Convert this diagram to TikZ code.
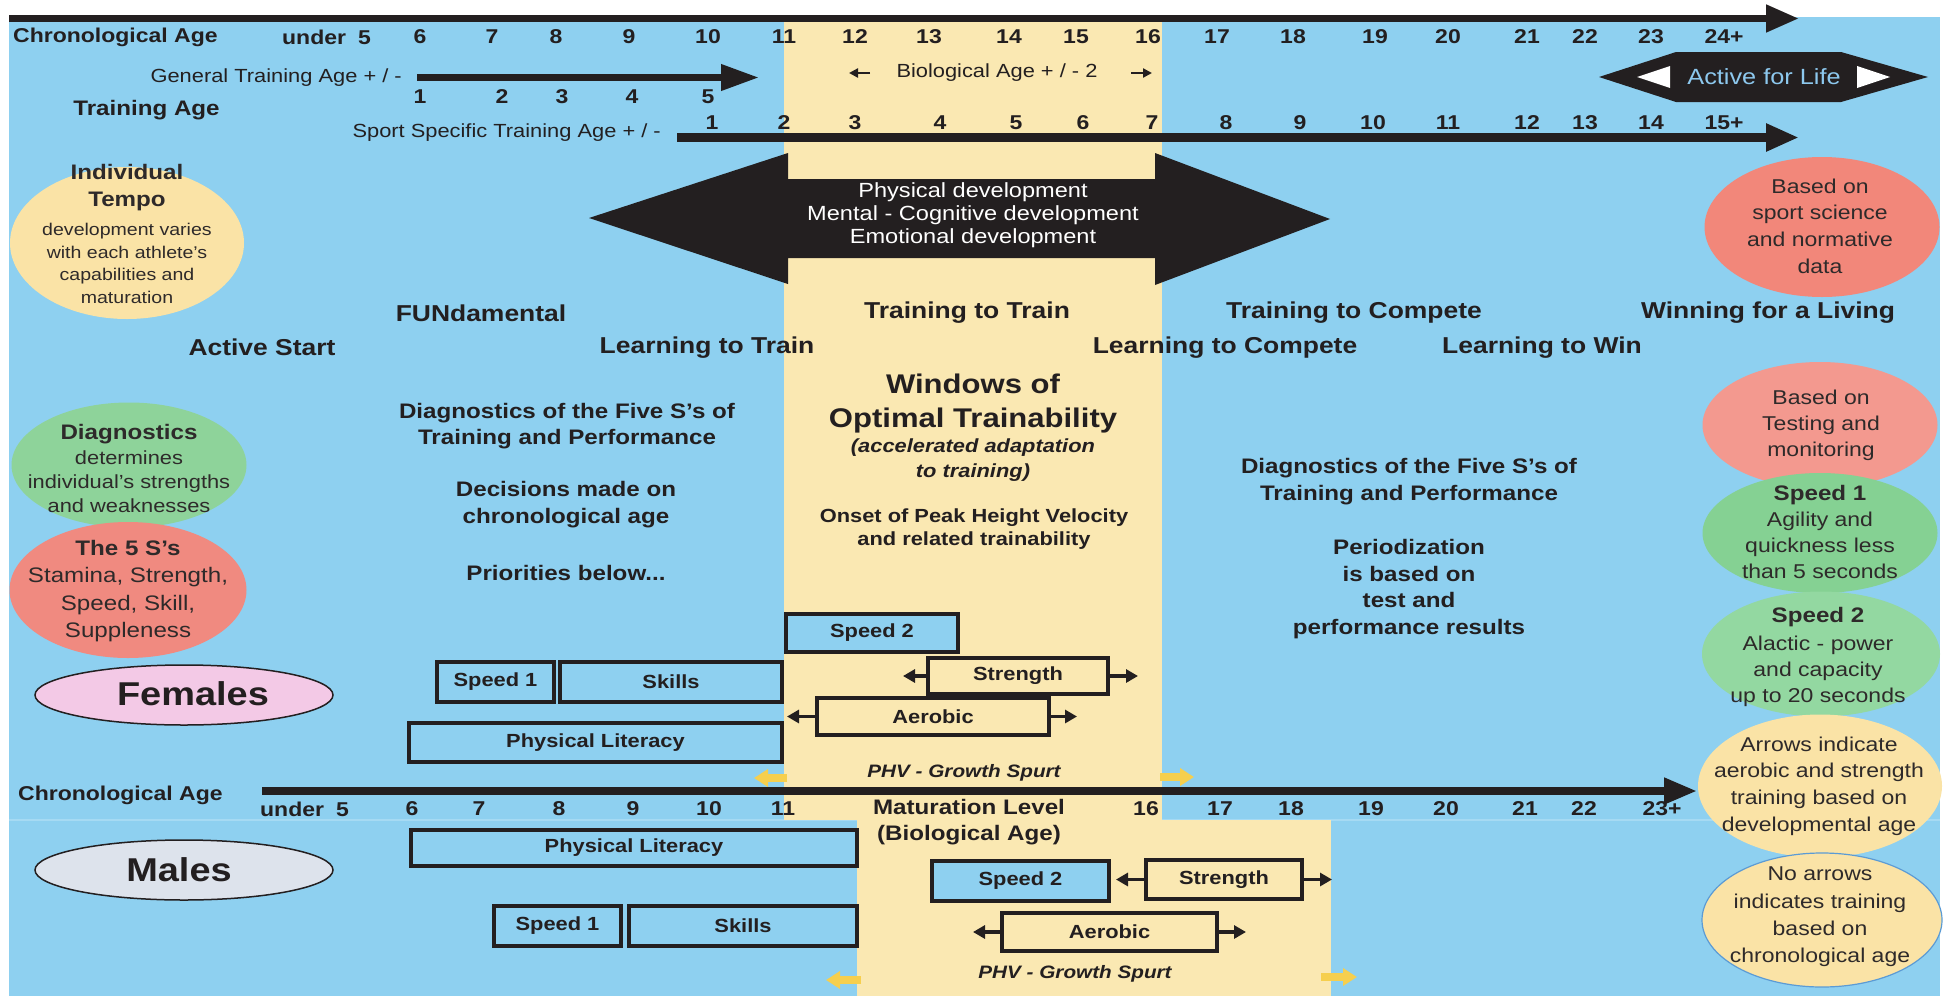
\documentclass[tikz,border=0pt]{standalone}
\usepackage{fontspec}
\setmainfont{Liberation Sans}[FakeStretch=1.15]
\usetikzlibrary{arrows.meta,shapes.geometric}
\definecolor{bg}{HTML}{8ED0F0}
\definecolor{band}{HTML}{FAE8B2}
\definecolor{ink}{HTML}{231F20}
\definecolor{ink2}{HTML}{2E2A2A}
\definecolor{sepc}{HTML}{A6DAF3}
\definecolor{aflc}{HTML}{8DC8EE}
\definecolor{goldc}{HTML}{F6CF4E}
\definecolor{ellyel}{HTML}{FAE3A6}
\definecolor{greenA}{HTML}{85D193}
\definecolor{greenB}{HTML}{93D8A1}
\definecolor{greenC}{HTML}{8ED39A}
\definecolor{salA}{HTML}{F2877A}
\definecolor{salB}{HTML}{F3998F}
\definecolor{salC}{HTML}{F08A80}
\definecolor{femc}{HTML}{F3C9E6}
\definecolor{malc}{HTML}{DDE3EC}
\definecolor{noarr}{HTML}{5B9BD5}
\newcommand\myfs[2]{\fontsize{#1}{#2}\selectfont}
\tikzset{
  xlab/.style={inner sep=0pt, text=ink, font=\bfseries\myfs{20}{24}},
  xreg/.style={inner sep=0pt, text=ink, font=\myfs{19}{23}},
  xstage/.style={inner sep=0pt, text=ink, font=\bfseries\myfs{23}{27}},
  xmidt/.style={inner sep=0pt, text=ink, align=center, font=\bfseries\myfs{21}{26.5}},
  xbar/.style={draw=ink, line width=4pt, inner sep=0pt, text=ink, font=\bfseries\myfs{19}{23}},
  xblue/.style={xbar, fill=bg},
  xyel/.style={xbar, fill=band},
  xell/.style={ellipse, inner sep=0pt, draw=none},
  xetxt/.style={inner sep=0pt, align=center, text=ink2},
  xside/.style={draw=ink, line width=3.5pt, -{Triangle[width=13pt,length=12pt]}},
  xsmall/.style={draw=ink, line width=2.5pt, -{Triangle[width=9pt,length=9pt]}},
  xgold/.style={draw=goldc, line width=8pt, -{Triangle[width=17pt,length=14pt]}},
  xmain/.style={draw=ink, line width=8pt, -{Triangle[width=26pt,length=33pt]}},
  xphv/.style={inner sep=0pt, text=ink, font=\bfseries\itshape\myfs{18}{22}},
}
\begin{document}
\begin{tikzpicture}[x=1pt,y=-1pt]
\useasboundingbox (0,0) rectangle (1952,996);
\fill[white] (0,0) rectangle (1952,996);
% panels
\fill[bg] (9,17) rectangle (1940,996);
\draw[sepc, line width=1.5pt] (9,820) -- (1940,820);
\fill[band] (784,22) rectangle (1162,820);
\fill[band] (857,820) rectangle (1331,996);

% ---------- top axis ----------
\coordinate (topS) at (9,18.5);
\coordinate (topE) at (1799,18.5);
\draw[xmain, line width=7.5pt] (topS) -- (topE);
\node[xlab, anchor=west] (chrT) at (13,37) {Chronological Age};
\node[xlab] (u5T) at (326.5,37) {under\hspace{12pt}5};
\foreach \n/\x [count=\i] in {6/420,7/492,8/556,9/629,10/708,11/784,12/855,13/929,14/1009,15/1076,16/1148,17/1217,18/1293,19/1375,20/1448,21/1527,22/1585,23/1651,24+/1724}
  \node[xlab] (ta\i) at (\x,37) {\n};

% general training age
\node[xreg, anchor=east] (genL) at (402,78) {General Training Age + / -};
\coordinate (genS) at (417,77.5);
\coordinate (genE) at (759,77.5);
\draw[xmain, line width=7pt, -{Triangle[width=25pt,length=38pt]}] (genS) -- (genE);
\foreach \n/\x [count=\i] in {1/420,2/502,3/562,4/632,5/708}
  \node[xlab] (gn\i) at (\x,97) {\n};
\node[xlab, font=\bfseries\myfs{21}{25}] (trA) at (146.5,110) {Training Age};

% biological age
\node[xreg] (bio) at (997,73) {Biological Age + / - 2};
\coordinate (bioL1) at (870,73);
\coordinate (bioL2) at (849,73);
\coordinate (bioR1) at (1131,73);
\coordinate (bioR2) at (1152,73);
\draw[xsmall] (bioL1) -- (bioL2);
\draw[xsmall] (bioR1) -- (bioR2);

% sport specific
\node[xreg, anchor=east] (spL) at (661,133) {Sport Specific Training Age + / -};
\coordinate (spS) at (677,137.5);
\coordinate (spE) at (1799,137.5);
\draw[xmain, line width=9pt] (spS) -- (spE);
\foreach \n/\x [count=\i] in {1/712,2/784,3/855,4/940,5/1016,6/1083,7/1152,8/1226,9/1300,10/1373,11/1448,12/1527,13/1585,14/1651,15+/1724}
  \node[xlab] (sn\i) at (\x,123) {\n};

% active for life
\fill[ink] (1599,77) -- (1676,52) -- (1841,52) -- (1928,77) -- (1841,102) -- (1676,102) -- cycle;
\fill[white] (1637,77) -- (1670,66) -- (1670,88) -- cycle;
\fill[white] (1890,77) -- (1857,66) -- (1857,88) -- cycle;
\node[inner sep=0pt, text=aflc, font=\myfs{22}{26}] (afl) at (1764,77) {Active for Life};

% big double arrow
\fill[ink] (589,218) -- (788,153) -- (788,179) -- (1155,179) -- (1155,153) -- (1330,219) -- (1155,285) -- (1155,258) -- (788,258) -- (788,284) -- cycle;
\node[inner sep=0pt, text=white, align=center, font=\myfs{20.5}{23}] (dev) at (973,215) {Physical development\\Mental - Cognitive development\\Emotional development};

% ---------- left ellipses ----------
\node[xell, fill=ellyel, minimum width=234pt, minimum height=152pt] (etempo) at (127,243) {};
\node[xetxt, font=\myfs{17}{22.7}] (ttempo) at (127,234) {{\bfseries\myfs{21}{22}Individual}\\[4.3pt]{\bfseries\myfs{21}{22}Tempo}\\[6pt]development varies\\with each athlete’s\\capabilities and\\maturation};
\node[xell, fill=greenC, minimum width=235pt, minimum height=125pt] (ediag) at (129,465) {};
\node[xell, fill=salC, minimum width=237pt, minimum height=136pt] (efive) at (128,590) {};
\node[xetxt, font=\myfs{19}{24}] (tdiag) at (129,468) {{\bfseries\myfs{21}{24}Diagnostics}\\[1pt]determines\\individual’s strengths\\and weaknesses};
\node[xetxt, font=\myfs{21}{27.5}] (tfive) at (128,591) {{\bfseries The 5 S’s}\\Stamina, Strength,\\Speed, Skill,\\Suppleness};

\node[xell, draw=ink, line width=1.5pt, fill=femc, minimum width=298pt, minimum height=60pt] (efem) at (184,695) {};
\node[inner sep=0pt, text=ink, font=\bfseries\myfs{33}{36}] (tfem) at (193,694) {Females};
\node[xell, draw=ink, line width=1.5pt, fill=malc, minimum width=298pt, minimum height=60pt] (emal) at (184,870) {};
\node[inner sep=0pt, text=ink, font=\bfseries\myfs{33}{36}] (tmal) at (179,870) {Males};

% ---------- stages ----------
\node[xstage] (sAS) at (262,347) {Active Start};
\node[xstage] (sFU) at (481,313) {FUNdamental};
\node[xstage] (sLT) at (707,348) {Learning to Train};
\node[xstage] (sTT) at (967,313) {Training to Train};
\node[xstage] (sLC) at (1225,348) {Learning to Compete};
\node[xstage] (sTC) at (1354,313) {Training to Compete};
\node[xstage] (sLW) at (1542,348) {Learning to Win};
\node[xstage] (sWL) at (1768,313) {Winning for a Living};

% ---------- middle texts ----------
\node[xmidt] (mL1) at (567,426) {Diagnostics of the Five S’s of\\Training and Performance};
\node[xmidt, font=\bfseries\myfs{21}{27}] (mL2) at (566,505) {Decisions made on\\chronological age};
\node[xmidt] (mL3) at (566,573) {Priorities below...};
\node[xmidt, font=\bfseries\myfs{27}{34}] (mW1) at (973,404) {Windows of\\Optimal Trainability};
\node[xmidt, font=\bfseries\itshape\myfs{19}{25}] (mW2) at (973,460) {(accelerated adaptation\\to training)};
\node[xmidt, font=\bfseries\myfs{19}{23}] (mW3) at (974,529) {Onset of Peak Height Velocity\\and related trainability};
\node[xmidt, font=\bfseries\myfs{21}{27}] (mR1) at (1409,482) {Diagnostics of the Five S’s of\\Training and Performance};
\node[xmidt, font=\bfseries\myfs{21}{26.7}] (mR2) at (1409,589) {Periodization\\is based on\\test and\\performance results};

% ---------- right ellipses ----------
\node[xell, fill=salA, minimum width=235pt, minimum height=140pt] (eR1) at (1822,227) {};
\node[xetxt, font=\myfs{20}{26.7}] (tR1) at (1820,226) {Based on\\sport science\\and normative\\data};
\node[xell, fill=salB, minimum width=235pt, minimum height=126pt] (eR2) at (1820,425) {};
\node[xetxt, font=\myfs{20}{26}] (tR2) at (1821,425) {Based on\\Testing and\\monitoring};
\node[xell, fill=greenA, minimum width=235pt, minimum height=120pt] (eR3) at (1820,533) {};
\node[xetxt, font=\myfs{20}{26}] (tR3) at (1820,532) {{\bfseries\myfs{21}{26}Speed 1}\\Agility and\\quickness less\\than 5 seconds};
\node[xell, fill=greenB, minimum width=238pt, minimum height=125pt] (eR4) at (1821,654) {};
\node[xetxt, font=\myfs{20}{26}] (tR4) at (1818,657) {{\bfseries\myfs{21}{26}Speed 2}\\[2pt]Alactic - power\\and capacity\\up to 20 seconds};
\node[xell, fill=ellyel, minimum width=244pt, minimum height=143pt] (eR5) at (1820,786) {};
\node[xetxt, font=\myfs{20}{26.7}] (tR5) at (1819,786) {Arrows indicate\\aerobic and strength\\training based on\\developmental age};
\node[xell, fill=ellyel, draw=noarr, line width=1.2pt, minimum width=240pt, minimum height=134pt] (eR6) at (1822,920) {};
\node[xetxt, font=\myfs{20}{27.3}] (tR6) at (1820,917) {No arrows\\indicates training\\based on\\chronological age};

% ---------- female bars ----------
\node[xblue, minimum width=172pt, minimum height=38pt] (fsp2) at (872,633) {Speed 2};
\node[xblue, minimum width=117pt, minimum height=40pt] (fsp1) at (495.5,682) {Speed 1};
\node[xblue, minimum width=222pt, minimum height=40pt] (fski) at (671,682) {Skills};
\node[xyel, minimum width=180pt, minimum height=36pt] (fstr) at (1018,676) {Strength};
\node[xyel, minimum width=232pt, minimum height=37pt] (faer) at (933,716.5) {Aerobic};
\node[xblue, minimum width=373pt, minimum height=39pt] (fphy) at (595.5,742.5) {Physical Literacy};
\coordinate (fstrL) at (903,676);
\coordinate (fstrR) at (1138,676);
\coordinate (faerL) at (787,716.5);
\coordinate (faerR) at (1077,716.5);
\draw[xside] (fstr.west) -- (fstrL);
\draw[xside] (fstr.east) -- (fstrR);
\draw[xside] (faer.west) -- (faerL);
\draw[xside] (faer.east) -- (faerR);
\node[xphv] (fphv) at (964,773) {PHV - Growth Spurt};
\coordinate (g1s) at (787,778);
\coordinate (g1e) at (754,778);
\coordinate (g2s) at (1160,777);
\coordinate (g2e) at (1194,777);
\draw[xgold] (g1s) -- (g1e);
\draw[xgold] (g2s) -- (g2e);

% ---------- bottom axis ----------
\coordinate (botS) at (262,791);
\coordinate (botE) at (1697,791);
\draw[xmain, line width=7.5pt, -{Triangle[width=25pt,length=33pt]}] (botS) -- (botE);
\node[xlab, anchor=west] (chrB) at (18,795) {Chronological Age};
\node[xlab] (u5B) at (304.5,809) {under\hspace{12pt}5};
\foreach \n/\x [count=\i] in {6/412,7/479,8/559,9/633,10/709,11/783,16/1146,17/1220,18/1291,19/1371,20/1446,21/1525,22/1584,23+/1662}
  \node[xlab] (bn\i) at (\x,809) {\n};
\node[xlab, align=center, font=\bfseries\myfs{21}{26}] (mat) at (969,822) {Maturation Level\\(Biological Age)};

% ---------- male bars ----------
\node[xblue, minimum width=446pt, minimum height=36pt] (mphy) at (634,848) {Physical Literacy};
\node[xblue, minimum width=127pt, minimum height=40pt] (msp1) at (557.5,926) {Speed 1};
\node[xblue, minimum width=228pt, minimum height=40pt] (mski) at (743,926) {Skills};
\node[xblue, minimum width=177pt, minimum height=40pt] (msp2) at (1020.5,881) {Speed 2};
\node[xyel, minimum width=156pt, minimum height=39pt] (mstr) at (1224,879.5) {Strength};
\node[xyel, minimum width=215pt, minimum height=38pt] (maer) at (1109.5,932) {Aerobic};
\coordinate (mstrL) at (1116,879.5);
\coordinate (mstrR) at (1332,879.5);
\coordinate (maerL) at (973,932);
\coordinate (maerR) at (1246,932);
\draw[xside] (mstr.west) -- (mstrL);
\draw[xside] (mstr.east) -- (mstrR);
\draw[xside] (maer.west) -- (maerL);
\draw[xside] (maer.east) -- (maerR);
\node[xphv] (mphv) at (1075,974) {PHV - Growth Spurt};
\coordinate (g3s) at (861,980);
\coordinate (g3e) at (826,980);
\coordinate (g4s) at (1321,977);
\coordinate (g4e) at (1357,977);
\draw[xgold] (g3s) -- (g3e);
\draw[xgold] (g4s) -- (g4e);
\end{tikzpicture}
\end{document}
